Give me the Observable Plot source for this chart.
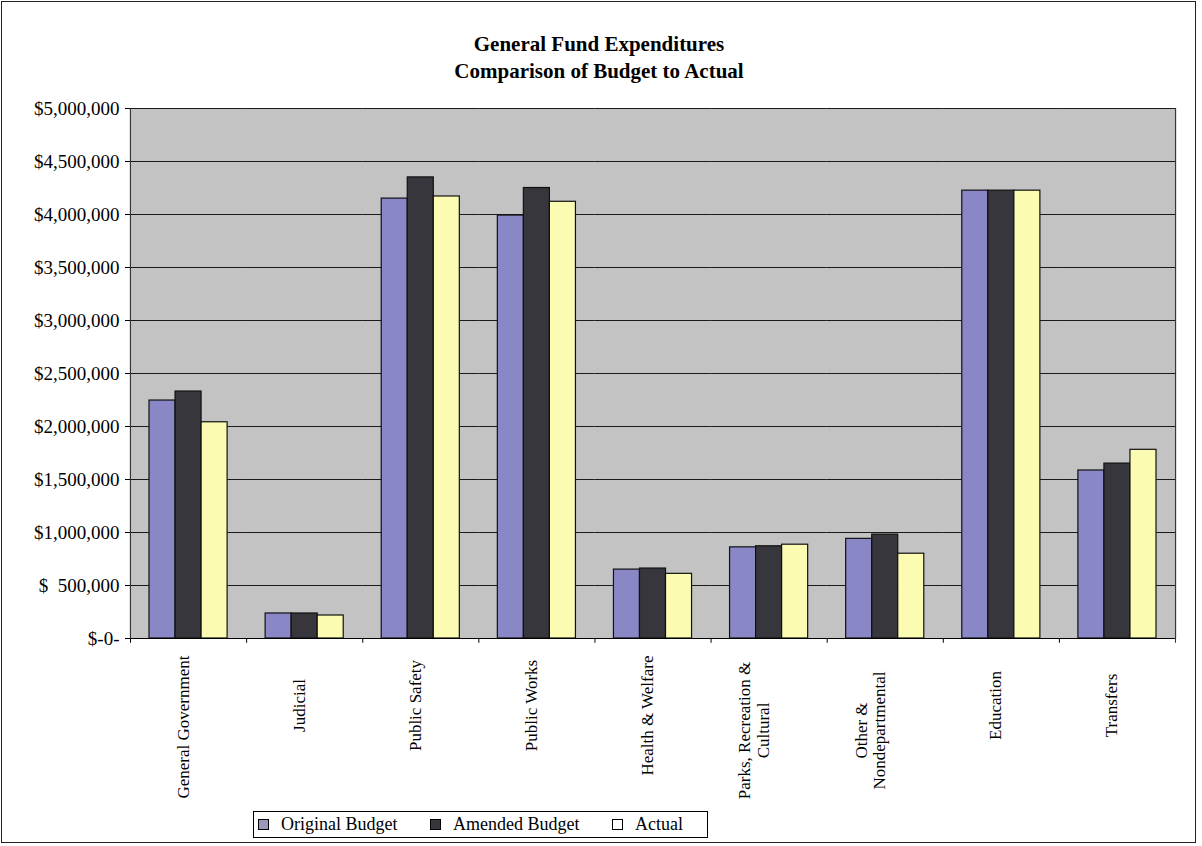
<!DOCTYPE html>
<html>
<head>
<meta charset="utf-8">
<script src="https://cdn.jsdelivr.net/npm/d3@7"></script>
<script src="https://cdn.jsdelivr.net/npm/@observablehq/plot@0.6"></script>
<style>
  html, body { margin: 0; padding: 0; background: #fff; }
  body { width: 1202px; height: 846px; position: relative; overflow: hidden; font-family: "Liberation Serif", "Times New Roman", serif; color: #000; }
  #border { position: absolute; left: 1px; top: 1px; width: 1195px; height: 842px; border: 1px solid #222; box-sizing: border-box; }
  #title { position: absolute; left: 0; top: 31px; width: 1198px; text-align: center; font-weight: bold; font-size: 21px; line-height: 27px; }
  #chart { position: absolute; left: 0; top: 90px; }
  #legend { position: absolute; left: 253px; top: 811px; width: 455px; height: 27px; border: 1px solid #000; box-sizing: border-box; font-size: 18px; background: #fff; }
  .item { display: flex; align-items: center; position: absolute; top: 2px; }
  .sw { width: 9px; height: 9px; border: 1px solid #000; margin-right: 12px; }
</style>
</head>
<body>
<div id="border"></div>
<div id="title">General Fund Expenditures<br>Comparison of Budget to Actual</div>
<div id="chart"></div>
<div id="legend"></div>
<script>
const categories = ["General Government", "Judicial", "Public Safety", "Public Works", "Health & Welfare", "Parks, Recreation & Cultural", "Other & Nondepartmental", "Education", "Transfers"];
const categoryLabels = ["General Government", "Judicial", "Public Safety", "Public Works", "Health & Welfare", "Parks, Recreation &\nCultural", "Other &\nNondepartmental", "Education", "Transfers"];
const series = ["Original Budget", "Amended Budget", "Actual"];
const originalBudget = [2245000, 236000, 4150000, 3990000, 650000, 860000, 940000, 4225000, 1585000];
const amendedBudget  = [2330000, 236000, 4350000, 4250000, 660000, 870000, 980000, 4225000, 1650000];
const actualSpent    = [2040000, 217000, 4170000, 4120000, 610000, 885000, 800000, 4225000, 1780000];
const yTicks = [0, 500000, 1000000, 1500000, 2000000, 2500000, 3000000, 3500000, 4000000, 4500000, 5000000];
const seriesColors = ["#8a87c6", "#36363c", "#fbfbb2"];

const valuesBySeries = [originalBudget, amendedBudget, actualSpent];
const rows = [];
categories.forEach((c, i) => series.forEach((s, j) => rows.push({category: c, series: s, value: valuesBySeries[j][i]})));
const labelRows = categories.map((c, i) => ({name: c, label: categoryLabels[i]}));

const longLabels = ["General Government", "Health & Welfare"];
const twoLineLabels = ["Parks, Recreation & Cultural", "Other & Nondepartmental"];
const shortRows = labelRows.filter(d => !longLabels.includes(d.name) && !twoLineLabels.includes(d.name));
const longRows = labelRows.filter(d => longLabels.includes(d.name));
const twoRows = labelRows.filter(d => twoLineLabels.includes(d.name));

const fmt = d3.format(",");
const yFormat = d => d === 0 ? "$-0-" : d === 500000 ? "$\u00a0\u00a0500,000" : "$" + fmt(d);

const edge = 32; // half bar + outer padding in px
const labelStyle = {fontSize: 17, rotate: -90, frameAnchor: "bottom", lineHeight: 1.1, fill: "#000"};

const chart = Plot.plot({
  width: 1202,
  height: 718,
  marginTop: 18,
  marginBottom: 170,
  marginLeft: 130,
  marginRight: 27,
  style: {fontFamily: "Liberation Serif, Times New Roman, serif", fontSize: "16px", background: "transparent", color: "#000"},
  fx: {domain: categories, padding: 0, axis: null, round: false},
  x: {domain: series, paddingInner: 0, paddingOuter: 0.73, axis: null, round: false},
  y: {domain: [0, 5000000], axis: null},
  color: {domain: series, range: seriesColors},
  marks: [
    Plot.frame({fill: "#c3c3c3", stroke: "none", insetLeft: -1, insetRight: -1}),
    Plot.gridY(yTicks, {stroke: "#1a1a1a", strokeOpacity: 1, strokeWidth: 1}),
    Plot.barY(rows, {fx: "category", x: "series", y: "value", fill: "series", stroke: "#111", strokeWidth: 1.2}),
    Plot.ruleY([0], {stroke: "#000", strokeWidth: 1}),
    Plot.ruleX(categories, {fx: d => d, x: () => series[0], dx: -edge, y1: 0, y2: -45000, stroke: "#000"}),
    Plot.ruleX([categories[categories.length - 1]], {fx: d => d, x: () => series[2], dx: edge, y1: -45000, y2: 5000000, stroke: "#333"}),
    Plot.ruleX([categories[0]], {fx: d => d, x: () => series[0], dx: -edge, y1: 0, y2: 5000000, stroke: "#333"}),
    Plot.axisY(yTicks, {tickFormat: yFormat, label: null, fontSize: 19, tickSize: 5, tickPadding: 6, stroke: "#000", fill: "#000"}),
    Plot.text(shortRows, {fx: "name", text: "label", textAnchor: "middle", dy: 67, ...labelStyle}),
    Plot.text(longRows, {fx: "name", text: "label", textAnchor: "end", dy: 17, ...labelStyle}),
    Plot.text(twoRows, {fx: "name", text: "label", textAnchor: "middle", dy: 92, ...labelStyle})
  ]
});
document.getElementById("chart").appendChild(chart);

const legend = document.getElementById("legend");
const legendPos = [4, 176, 358];
series.forEach((s, j) => {
  const it = document.createElement("div");
  it.className = "item";
  it.style.left = legendPos[j] + "px";
  const sw = document.createElement("div");
  sw.className = "sw";
  sw.style.background = j === 2 ? "#fff" : seriesColors[j];
  if (j === 0) sw.style.background = "#9a98b8";
  const t = document.createElement("span");
  t.textContent = s;
  it.appendChild(sw);
  it.appendChild(t);
  legend.appendChild(it);
});
</script>
</body>
</html>
